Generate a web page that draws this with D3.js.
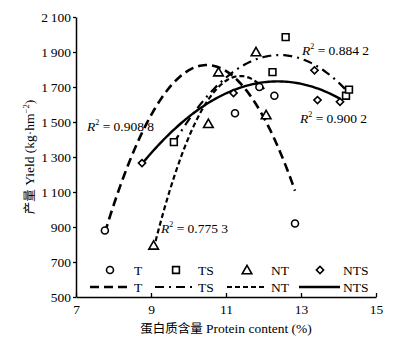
<!DOCTYPE html>
<html><head><meta charset="utf-8">
<script src="https://cdn.jsdelivr.net/npm/d3@7"></script>
<style>body{margin:0;background:#fff}svg{display:block}text{font-family:"Liberation Serif","Times New Roman","Noto Sans CJK SC",serif;fill:#000}</style>
</head><body><svg id="c" width="393" height="344"></svg>
<script>
// ---- data ----
const seriesNames = ["T", "TS", "NT", "NTS"];
const T_x   = [7.77, 11.24, 11.89, 12.29, 12.84];
const T_y   = [880, 1550, 1700, 1650, 920];
const TS_x  = [9.61, 12.24, 12.59, 14.20, 14.28];
const TS_y  = [1385, 1785, 1985, 1650, 1685];
const NT_x  = [9.07, 10.53, 10.80, 11.80, 12.07];
const NT_y  = [795, 1490, 1785, 1900, 1540];
const NTS_x = [8.76, 11.20, 13.36, 13.44, 14.04];
const NTS_y = [1265, 1665, 1795, 1625, 1615];
const r2Labels = ["0.908 8", "0.775 3", "0.884 2", "0.900 2"];
const xTicks = [7, 9, 11, 13, 15];
const yTicks = [500, 700, 900, 1100, 1300, 1500, 1700, 1900, 2100];

const svg = d3.select("#c");
const m = {l:76, r:376, t:17, b:297};
const x = d3.scaleLinear().domain([7,15]).range([m.l, m.r]);
const y = d3.scaleLinear().domain([500,2100]).range([m.b, m.t]);

const fmt = v => { const s = String(v); return s.length>3 ? s.slice(0,-3)+"\u2009"+s.slice(-3) : s; };

// axes
const gx = svg.append("g").attr("transform",`translate(0,${m.b})`)
  .call(d3.axisBottom(x).tickValues(xTicks).tickSizeInner(-4).tickSizeOuter(0).tickPadding(7));
const gy = svg.append("g").attr("transform",`translate(${m.l},0)`)
  .call(d3.axisLeft(y).tickValues(yTicks).tickFormat(d=>fmt(d)).tickSizeInner(3).tickSizeOuter(0).tickPadding(2));
[gx,gy].forEach(g=>{
  g.select(".domain").attr("stroke","#000").attr("stroke-width",1.5);
  g.selectAll(".tick line").attr("stroke","#000").attr("stroke-width",1.3);
  g.selectAll(".tick text").attr("font-size",13.5).attr("font-family","Liberation Serif").attr("fill","#000");
});

// quadratic least squares
function quadFit(xs, ys){
  const n = xs.length; let S=[0,0,0,0,0], T=[0,0,0];
  for(let i=0;i<n;i++){const xi=xs[i];let p=1;for(let k=0;k<5;k++){S[k]+=p;if(k<3)T[k]+=p*ys[i];p*=xi;}}
  const A=[[S[0],S[1],S[2],T[0]],[S[1],S[2],S[3],T[1]],[S[2],S[3],S[4],T[2]]];
  for(let i=0;i<3;i++){for(let j=i+1;j<3;j++){const f=A[j][i]/A[i][i];for(let k=i;k<4;k++)A[j][k]-=f*A[i][k];}}
  const c=[0,0,0];
  for(let i=2;i>=0;i--){let s=A[i][3];for(let k=i+1;k<3;k++)s-=A[i][k]*c[k];c[i]=s/A[i][i];}
  return c;
}

const series = [
  {name:"T", xs:T_x, ys:T_y, dash:"9,5", w:2.6},
  {name:"TS", xs:TS_x, ys:TS_y, dash:"9,5,2,5", w:2.2},
  {name:"NT", xs:NT_x, ys:NT_y, dash:"5,3", w:2.2},
  {name:"NTS", xs:NTS_x, ys:NTS_y, dash:null, w:2.4},
];

const line = d3.line().x(d=>x(d[0])).y(d=>y(d[1])).curve(d3.curveLinear);
series.forEach(s=>{
  const c = quadFit(s.xs, s.ys);
  const x0 = d3.min(s.xs), x1 = d3.max(s.xs);
  const pts = d3.range(0,101).map(i=>{const xv=x0+(x1-x0)*i/100;return [xv,c[0]+c[1]*xv+c[2]*xv*xv];});
  svg.append("path").datum(pts).attr("d",line).attr("fill","none").attr("stroke","#000")
    .attr("stroke-width",s.w).attr("stroke-dasharray",s.dash);
});

// markers
const sym = {
  T: d3.symbol().type(d3.symbolCircle).size(38),
  TS: d3.symbol().type(d3.symbolSquare).size(46),
  NT: d3.symbol().type(d3.symbolTriangle).size(40),
  NTS: d3.symbol().type(d3.symbolSquare).size(26),
};
const symOff = {T:0, TS:0, NT:1, NTS:0};
const symRot = {T:0, TS:0, NT:0, NTS:45};
function drawSym(name, cx, cy){
  svg.append("path").attr("d",sym[name]())
    .attr("transform",`translate(${cx},${cy+symOff[name]}) rotate(${symRot[name]})`)
    .attr("fill","#fff").attr("stroke","#000").attr("stroke-width",1.6);
}
series.forEach(s=>{
  s.xs.forEach((xv,i)=> drawSym(s.name, x(xv), y(s.ys[i])));
});

// R² labels
const r2Pos = [[87,131],[161,233],[302,55],[300,123]];
r2Labels.forEach((r,i)=>{
  const t = svg.append("text").attr("x",r2Pos[i][0]).attr("y",r2Pos[i][1]).attr("font-size",13.5);
  t.append("tspan").attr("font-style","italic").text("R");
  t.append("tspan").attr("font-size",8).attr("dy",-6).text("2");
  t.append("tspan").attr("dy",6).text(" = "+r);
});

// legend
const legSym = [110,176,247,320];
const legTxt = [134,198,271,343];
const legLine = [[90,130],[155,193],[227,267],[299,340]];
series.forEach((s,i)=>{
  drawSym(s.name, legSym[i], 270);
  svg.append("text").attr("x",legTxt[i]).attr("y",275).attr("font-size",13.5).text(s.name);
  svg.append("line").attr("x1",legLine[i][0]).attr("x2",legLine[i][1]).attr("y1",287).attr("y2",287)
    .attr("stroke","#000").attr("stroke-width",s.w).attr("stroke-dasharray",s.dash);
  svg.append("text").attr("x",legTxt[i]).attr("y",292).attr("font-size",13.5).text(s.name);
});

// axis titles
const xt = svg.append("text").attr("x",226).attr("y",333).attr("text-anchor","middle").attr("font-size",13.5);
xt.append("tspan").attr("font-family","Noto Sans CJK SC").attr("font-size",12.5).text("蛋白质含量");
xt.append("tspan").text(" Protein content (%)");

const yt = svg.append("text").attr("transform","translate(34,157) rotate(-90)").attr("text-anchor","middle").attr("font-size",13.5);
yt.append("tspan").attr("font-family","Noto Sans CJK SC").attr("font-size",12.5).text("产量");
yt.append("tspan").text(" Yield (kg·hm");
yt.append("tspan").attr("font-size",8.5).attr("dy",-5).text("−2");
yt.append("tspan").attr("dy",5).text(")");
</script></body></html>
